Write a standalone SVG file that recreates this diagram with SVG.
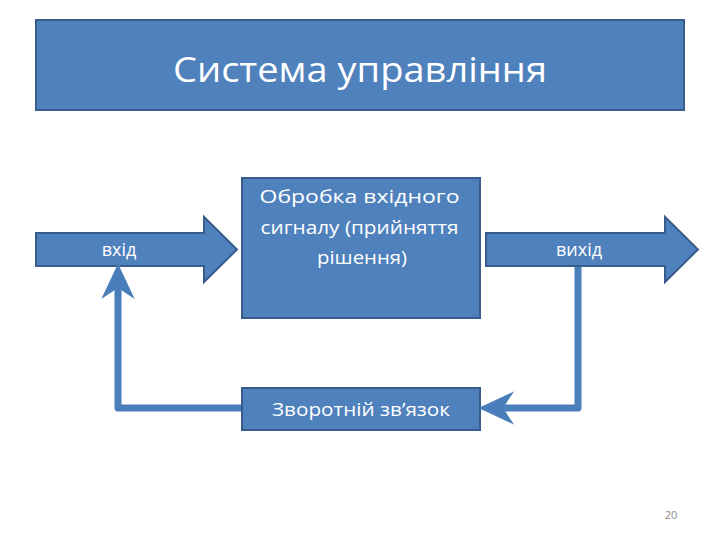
<svg xmlns="http://www.w3.org/2000/svg" width="720" height="540" viewBox="0 0 720 540">
<style>
.shape{fill:#4F81BD;stroke:#385D8A;stroke-width:2}
.lbl{fill:#FFFFFF;font-family:"Open Sans","Noto Sans","DejaVu Sans",sans-serif;text-anchor:middle}
.conn{fill:none;stroke:#4A7EBB;stroke-width:7;stroke-linejoin:round}
</style>
<defs>
<marker id="head" markerUnits="userSpaceOnUse" markerWidth="40" markerHeight="40" viewBox="-12 -17 36 34" refX="0" refY="0" orient="auto">
<path d="M22,0 L-10,-15 L0,0 L-10,15 Z" fill="#4A7EBB"/>
</marker>
</defs>
<rect width="720" height="540" fill="#FFFFFF"/>
<g id="title">
<rect class="shape" x="36" y="20" width="648" height="90"/>
<text class="lbl" x="360" y="82" font-size="35" textLength="374" lengthAdjust="spacingAndGlyphs">Система управління</text>
</g>
<g id="input">
<polygon class="shape" points="36,233 204,233 204,217 237,249.5 204,282 204,266 36,266"/>
<text class="lbl" x="119" y="256" font-size="18">вхід</text>
</g>
<g id="process">
<rect class="shape" x="242" y="178" width="238" height="140"/>
<text class="lbl" font-size="19">
<tspan x="362" y="203" textLength="200" lengthAdjust="spacingAndGlyphs">Обробка вхідного</tspan>
<tspan x="362" y="234" textLength="198" lengthAdjust="spacingAndGlyphs">сигналу (прийняття</tspan>
<tspan x="362" y="264" textLength="90" lengthAdjust="spacingAndGlyphs">рішення)</tspan>
</text>
</g>
<g id="output">
<polygon class="shape" points="486,233 665,233 665,217 698,249.5 665,282 665,266 486,266"/>
<text class="lbl" x="579" y="256" font-size="18">вихід</text>
</g>
<g id="feedback">
<rect class="shape" x="242" y="388" width="238" height="42"/>
<text class="lbl" x="361" y="416" font-size="19" textLength="178" lengthAdjust="spacingAndGlyphs">Зворотній зв’язок</text>
</g>
<g id="connectors">
<path class="conn" d="M578,267 V408 H503" marker-end="url(#head)"/>
<path class="conn" d="M241,408 H118 V288" marker-end="url(#head)"/>
</g>
<text x="671" y="519" font-size="11" fill="#8C8C8C" font-family="Open Sans, sans-serif" text-anchor="middle">20</text>
</svg>
